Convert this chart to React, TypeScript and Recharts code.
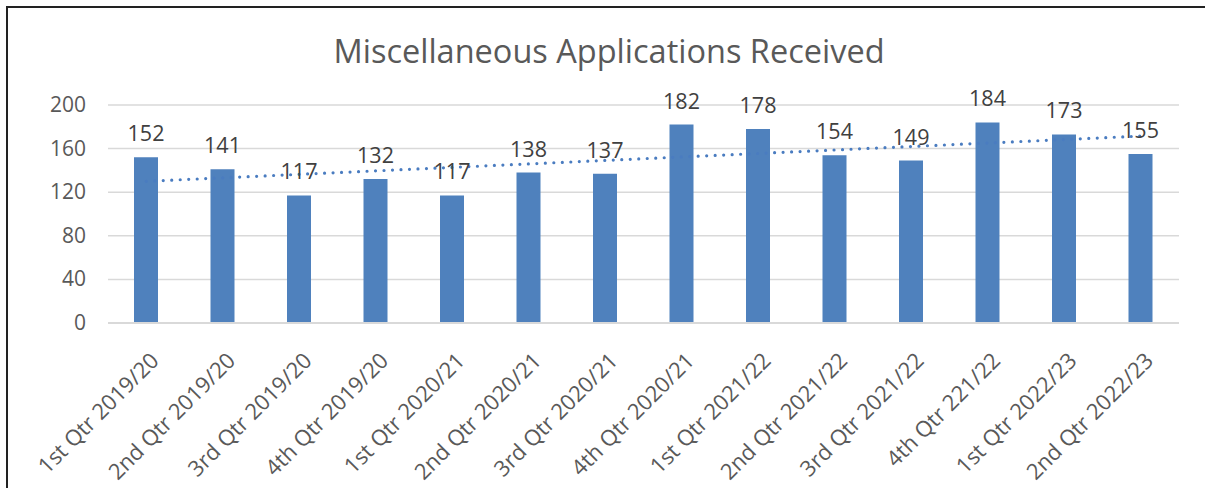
import { ComposedChart, Bar, Line, XAxis, YAxis, CartesianGrid, LabelList } from 'recharts';

const quarters = [
  '1st Qtr 2019/20', '2nd Qtr 2019/20', '3rd Qtr 2019/20', '4th Qtr 2019/20',
  '1st Qtr 2020/21', '2nd Qtr 2020/21', '3rd Qtr 2020/21', '4th Qtr 2020/21',
  '1st Qtr 2021/22', '2nd Qtr 2021/22', '3rd Qtr 2021/22', '4th Qtr 221/22',
  '1st Qtr 2022/23', '2nd Qtr 2022/23',
];
const received = [152, 141, 117, 132, 117, 138, 137, 182, 178, 154, 149, 184, 173, 155];
// linear trendline, ends
const trendEnds = [130, 171.5];
const yTicks = [0, 20, 40, 60, 80, 100, 120, 140, 160, 180, 200];

const data = quarters.map((q, i) => ({
  quarter: q,
  value: received[i],
  trend: i === 0 ? trendEnds[0] : i === quarters.length - 1 ? trendEnds[1] : null,
}));

const FONT = '"Open Sans", sans-serif';

const YTick = ({ x, y, payload }: any) => {
  if (payload.value % 40 !== 0) return null;
  return (
    <text x={x - 14} y={y} dy={7} textAnchor="end" fontSize={21} fontFamily={FONT} fill="#595959">
      {payload.value}
    </text>
  );
};

const XTick = ({ x, y, payload }: any) => (
  <g transform={`translate(${x + 14},${y + 31}) rotate(-45)`}>
    <text x={0} y={0} textAnchor="end" fontSize={22} fontFamily={FONT} fill="#595959">
      {payload.value}
    </text>
  </g>
);

export default function App() {
  return (
    <div style={{ position: 'absolute', left: 0, top: 0, width: 1205, height: 488, background: '#fff', overflow: 'hidden' }}>
      <div style={{ position: 'absolute', left: 6, top: 6, width: 1300, height: 600, borderLeft: '2px solid #222', borderTop: '2px solid #222' }} />
      <div style={{ position: 'absolute', left: 0, top: 28, width: 1218, textAlign: 'center', fontFamily: FONT, fontSize: 32.5, color: '#595959', lineHeight: 'normal' }}>
        Miscellaneous Applications Received
      </div>
      <div style={{ position: 'absolute', left: 0, top: 0 }}>
        <ComposedChart width={1205} height={488} data={data} margin={{ top: 105, right: 26, bottom: 0, left: 0 }}>
          <CartesianGrid vertical={false} stroke="#d9d9d9" strokeWidth={1.5} />
          <XAxis dataKey="quarter" interval={0} height={165} tick={<XTick />} tickLine={false} axisLine={{ stroke: '#d9d9d9', strokeWidth: 2 }} />
          <YAxis width={108} domain={[0, 200]} ticks={yTicks} tick={<YTick />} axisLine={false} tickLine={false} />
          <Line dataKey="trend" connectNulls stroke="#4a7cc0" strokeWidth={3.2} strokeDasharray="0 8.5" strokeLinecap="round" dot={false} isAnimationActive={false} />
          <Bar dataKey="value" fill="#4f81bd" barSize={24} isAnimationActive={false}>
            <LabelList dataKey="value" position="top" offset={16} fontSize={21.5} fontFamily={FONT} fill="#404040" />
          </Bar>
        </ComposedChart>
      </div>
    </div>
  );
}
